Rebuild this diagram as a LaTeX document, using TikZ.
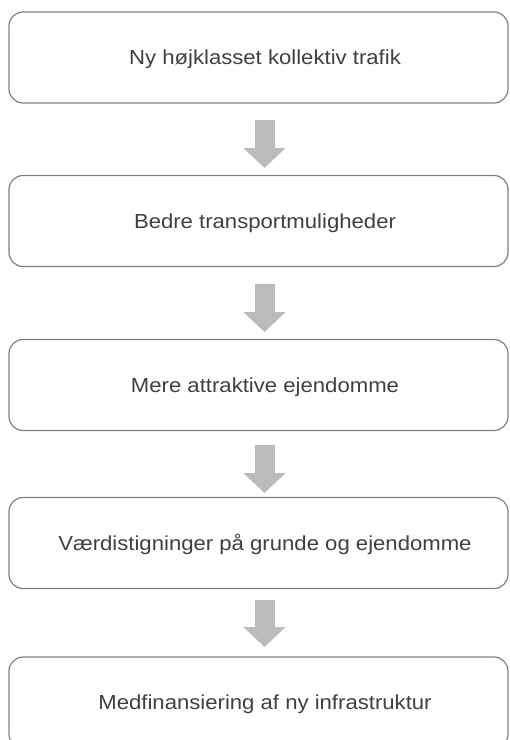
\documentclass[tikz,border=0pt]{standalone}
\usepackage{fontspec}
\usepackage{graphicx}
\setmainfont{Liberation Sans}
\usetikzlibrary{arrows.meta}
\definecolor{boxline}{RGB}{128,128,128}
\definecolor{txtgray}{RGB}{64,64,64}
\definecolor{arrowgray}{RGB}{187,187,187}
\tikzset{
  stepbox/.style={draw=boxline, line width=1.2pt, rounded corners=14pt, fill=white,
    minimum width=499pt, minimum height=91pt, inner sep=0pt, outer sep=0pt},
  lbl/.style={anchor=base, text=txtgray, inner sep=0pt,
    font=\fontsize{20.3pt}{24pt}\selectfont},
  flowarrow/.style={draw=arrowgray, line width=20pt, line cap=butt,
    -{Triangle[width=41pt,length=20pt]}}
}
\newcommand{\wtxt}[1]{\scalebox{1.09}[1]{#1}}
\begin{document}
\begin{tikzpicture}[x=1pt,y=-1pt]
\useasboundingbox (0,0) rectangle (510,740);
% boxes
\node[stepbox] (b1) at (258.5,57.5) {};
\node[stepbox] (b2) at (258.5,221) {};
\node[stepbox] (b3) at (258.5,385) {};
\node[stepbox] (b4) at (258.5,543) {};
\node[stepbox] (b5) at (258.5,702.5) {};
% labels
\node[lbl] (t1) at (265,64.8) {\wtxt{Ny højklasset kollektiv trafik}};
\node[lbl] (t2) at (265,228.3) {\wtxt{Bedre transportmuligheder}};
\node[lbl] (t3) at (265,392.3) {\wtxt{Mere attraktive ejendomme}};
\node[lbl] (t4) at (265,550.3) {\wtxt{Værdistigninger på grunde og ejendomme}};
\node[lbl] (t5) at (265,709.8) {\wtxt{Medfinansiering af ny infrastruktur}};
% arrow ends
\coordinate (s1) at (264.5,120);
\coordinate (e1) at (264.5,168);
\coordinate (s2) at (264.5,284);
\coordinate (e2) at (264.5,332);
\coordinate (s3) at (264.5,445);
\coordinate (e3) at (264.5,493);
\coordinate (s4) at (264.5,600);
\coordinate (e4) at (264.5,647);
\draw[flowarrow] (s1) -- (e1);
\draw[flowarrow] (s2) -- (e2);
\draw[flowarrow] (s3) -- (e3);
\draw[flowarrow] (s4) -- (e4);
\end{tikzpicture}
\end{document}
